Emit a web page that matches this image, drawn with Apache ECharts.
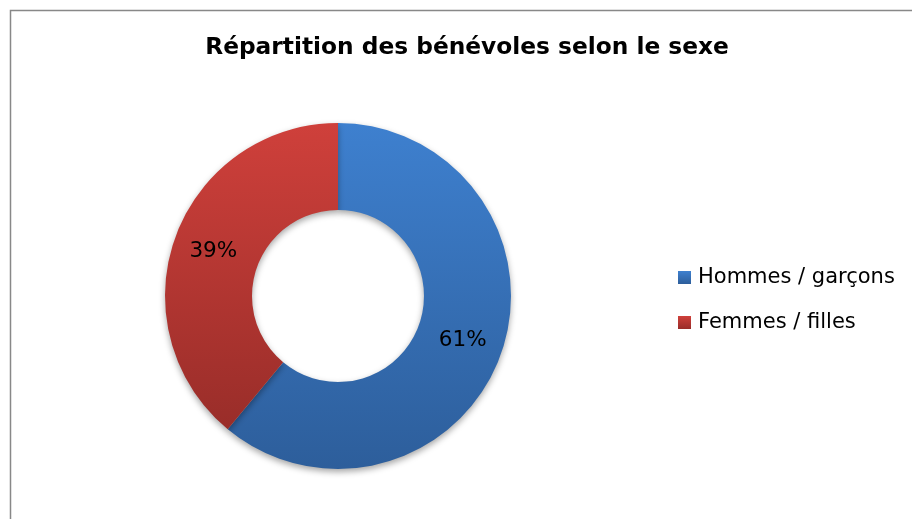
<!DOCTYPE html>
<html>
<head>
<meta charset="utf-8">
<script src="https://cdn.jsdelivr.net/npm/echarts@6/dist/echarts.min.js"></script>
<style>
  html, body { margin: 0; padding: 0; background: #fff; }
  #chart { width: 912px; height: 519px; }
</style>
</head>
<body>
<div id="chart"></div>
<script>
const titleText = 'Répartition des bénévoles selon le sexe'
const categories = ['Hommes / garçons', 'Femmes / filles']
const shares = [61, 39]
const sliceColors = [
  ['#3e80cf', '#2d5e9b'],
  ['#cf403b', '#992d29']
]

const myChart = echarts.init(document.getElementById('chart'))
const font = 'DejaVu Sans'

const option = {
  animation: false,
  title: {
    text: titleText,
    left: 462,
    textAlign: 'center',
    top: 31,
    textStyle: {
      fontFamily: font,
      fontWeight: 'bold',
      fontSize: 23.3,
      color: '#000'
    }
  },
  graphic: [{
    // chart frame
    type: 'rect',
    shape: { x: 10.5, y: 10.5, width: 920, height: 530 },
    style: { fill: null, stroke: '#888', lineWidth: 1.5 },
    silent: true
  }],
  legend: {
    orient: 'vertical',
    left: 678,
    top: 267,
    padding: 0,
    icon: 'rect',
    itemWidth: 13,
    itemHeight: 13,
    itemGap: 24,
    textStyle: {
      fontFamily: font,
      fontSize: 21,
      color: '#000',
      padding: [0, 0, 0, 2]
    },
    data: categories
  },
  series: [{
    type: 'pie',
    center: [338, 296],
    radius: [86, 173],
    startAngle: 90,
    clockwise: true,
    label: {
      show: true,
      position: 'inside',
      formatter: '{c}%',
      fontFamily: font,
      fontSize: 21.5,
      color: '#000'
    },
    labelLine: { show: false },
    emphasis: { disabled: true },
    itemStyle: {
      shadowBlur: 6,
      shadowOffsetY: 3,
      shadowColor: 'rgba(0,0,0,0.35)'
    },
    data: categories.map((name, i) => ({
      name: name,
      value: shares[i],
      itemStyle: {
        color: new echarts.graphic.LinearGradient(0, 0, 0, 1, [
          { offset: 0, color: sliceColors[i][0] },
          { offset: 1, color: sliceColors[i][1] }
        ])
      }
    }))
  }]
}

myChart.setOption(option)
</script>
</body>
</html>
